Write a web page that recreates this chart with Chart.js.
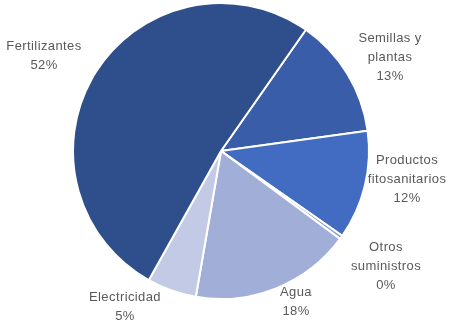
<!DOCTYPE html>
<html>
<head>
<meta charset="utf-8">
<script src="https://cdn.jsdelivr.net/npm/chart.js@4/dist/chart.umd.min.js"></script>
<style>
    body { margin: 0; background: #fff; }
    canvas { display: block; }
</style>
</head>
<body>
<canvas id="myChart" width="451" height="322"></canvas>
<script>
    // Datos del gráfico (orden en sentido horario desde la parte superior derecha)
    const categories = ['Semillas y plantas', 'Productos fitosanitarios', 'Otros suministros', 'Agua', 'Electricidad', 'Fertilizantes'];
    const labelLines = [['Semillas y', 'plantas'], ['Productos', 'fitosanitarios'], ['Otros', 'suministros'], ['Agua'], ['Electricidad'], ['Fertilizantes']];
    const values = [13.1, 11.9, 0.4, 17.6, 5.4, 51.6];
    const percentLabels = ['13%', '12%', '0%', '18%', '5%', '52%'];

    const colors = ['#3A5DAA', '#416CC1', '#7F96CF', '#A1AED8', '#C2CAE5', '#2F4F8C'];
    // desplazamiento de cada etiqueta respecto al centro del gráfico
    const labelOffsets = [[169, -94], [186, 28], [165, 115], [75, 151], [-96, 156], [-177, -95]];

    const labelPlugin = {
        id: 'pieLabels',
        afterDraw(chart) {
            const ctx = chart.ctx;
            const arc = chart.getDatasetMeta(0).data[0];
            ctx.save();
            ctx.font = '13px "Liberation Sans"';
            ctx.letterSpacing = '0.4px';
            ctx.fillStyle = '#595959';
            ctx.textAlign = 'center';
            ctx.textBaseline = 'middle';
            const lh = 19;
            labelLines.forEach((lines, i) => {
                const all = [...lines, percentLabels[i]];
                const cx = arc.x + labelOffsets[i][0];
                const cy = arc.y + labelOffsets[i][1];
                const top = cy - (all.length - 1) * lh / 2;
                all.forEach((t, j) => ctx.fillText(t, cx, top + j * lh));
            });
            ctx.restore();
        }
    };

    new Chart(document.getElementById('myChart').getContext('2d'), {
        type: 'pie',
        data: {
            labels: categories,
            datasets: [{
                data: values,
                backgroundColor: colors,
                borderColor: '#ffffff',
                borderWidth: 2
            }]
        },
        options: {
            responsive: false,
            animation: false,
            rotation: 35,
            layout: { padding: { left: 72, right: 81, top: 2, bottom: 22 } },
            plugins: {
                legend: { display: false },
                tooltip: { enabled: false }
            }
        },
        plugins: [labelPlugin]
    });
</script>
</body>
</html>
